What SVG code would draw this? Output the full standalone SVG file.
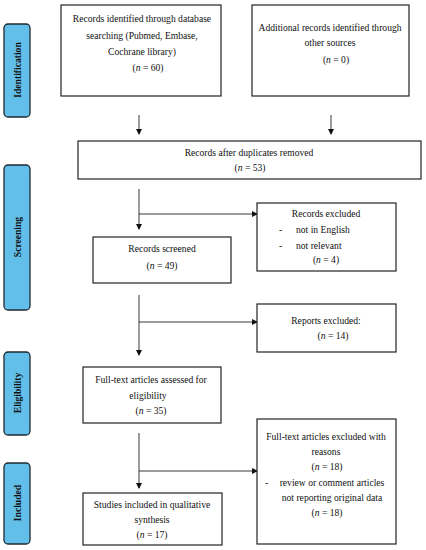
<svg xmlns="http://www.w3.org/2000/svg" width="426" height="550" viewBox="0 0 426 550">
<defs>
<style>
.box{fill:#fff;stroke:#222;stroke-width:1.2}
.lab{fill:#62BFEA;stroke:#1f2a30;stroke-width:1.3}
.t{font-family:'Liberation Serif','Times New Roman',serif;font-size:9.6px;fill:#111;text-anchor:middle}
.tl{font-family:'Liberation Serif','Times New Roman',serif;font-size:9.6px;fill:#111}
.lt{font-family:'Liberation Serif','Times New Roman',serif;font-size:9.6px;font-weight:bold;fill:#111;text-anchor:middle}
.c{fill:none;stroke:#222;stroke-width:0.9}
</style>
<marker id="ah" markerWidth="6" markerHeight="6" refX="5" refY="3" orient="auto" markerUnits="userSpaceOnUse">
<path d="M0,0 L6,3 L0,6 Z" fill="#111"/>
</marker>
</defs>
<rect width="426" height="550" fill="#fff"/>

<g id="label-identification"><rect class="lab" x="4" y="24" width="26" height="93" rx="4"/><text class="lt" transform="translate(20.5,70) rotate(-90)">Identification</text></g>
<g id="label-screening"><rect class="lab" x="4" y="165" width="26" height="145" rx="4"/><text class="lt" transform="translate(20.5,237) rotate(-90)">Screening</text></g>
<g id="label-eligibility"><rect class="lab" x="4" y="352" width="26" height="83" rx="4"/><text class="lt" transform="translate(20.5,393) rotate(-90)">Eligibility</text></g>
<g id="label-included"><rect class="lab" x="4" y="463" width="26" height="81" rx="4"/><text class="lt" transform="translate(20.5,503) rotate(-90)">Included</text></g>

<g id="connectors">
<line class="c" x1="139" y1="115" x2="139" y2="134" marker-end="url(#ah)"/>
<line class="c" x1="331" y1="115" x2="331" y2="134" marker-end="url(#ah)"/>
<line class="c" x1="139" y1="189" x2="139" y2="229" marker-end="url(#ah)"/>
<line class="c" x1="139" y1="214" x2="257" y2="214" marker-end="url(#ah)"/>
<line class="c" x1="139" y1="295" x2="139" y2="355" marker-end="url(#ah)"/>
<line class="c" x1="139" y1="322" x2="257" y2="322" marker-end="url(#ah)"/>
<line class="c" x1="139" y1="433" x2="139" y2="488" marker-end="url(#ah)"/>
<line class="c" x1="139" y1="471" x2="257" y2="471" marker-end="url(#ah)"/>
</g>

<g id="records-identified"><rect class="box" x="61" y="5" width="160" height="91"/>
<text class="t" x="142" y="22">Records identified through database</text>
<text class="t" x="142" y="39">searching (Pubmed, Embase,</text>
<text class="t" x="142" y="55">Cochrane library)</text>
<text class="t" x="148" y="71">(<tspan font-style="italic">n</tspan> = 60)</text></g>

<g id="additional-records"><rect class="box" x="252" y="5" width="157" height="91"/>
<text class="t" x="330" y="31">Additional records identified through</text>
<text class="t" x="330" y="46">other sources</text>
<text class="t" x="336" y="63">(<tspan font-style="italic">n</tspan> = 0)</text></g>

<g id="after-duplicates"><rect class="box" x="78" y="141" width="343" height="38"/>
<text class="t" x="249" y="156">Records after duplicates removed</text>
<text class="t" x="250" y="171">(<tspan font-style="italic">n</tspan> = 53)</text></g>

<g id="records-excluded"><rect class="box" x="257" y="203" width="139" height="68"/>
<text class="t" x="326" y="217">Records excluded</text>
<text class="tl" x="279" y="233">-</text><text class="tl" x="296" y="233">not in English</text>
<text class="tl" x="279" y="249">-</text><text class="tl" x="296" y="249">not relevant</text>
<text class="t" x="326" y="263">(<tspan font-style="italic">n</tspan> = 4)</text></g>

<g id="records-screened"><rect class="box" x="93" y="237" width="138" height="46"/>
<text class="t" x="162" y="252">Records screened</text>
<text class="t" x="162" y="269">(<tspan font-style="italic">n</tspan> = 49)</text></g>

<g id="reports-excluded"><rect class="box" x="257" y="304" width="139" height="48"/>
<text class="t" x="326" y="324">Reports excluded:</text>
<text class="t" x="333" y="339">(<tspan font-style="italic">n</tspan> = 14)</text></g>

<g id="fulltext-assessed"><rect class="box" x="83" y="367" width="138" height="56"/>
<text class="t" x="151" y="383">Full-text articles assessed for</text>
<text class="t" x="148" y="399">eligibility</text>
<text class="t" x="151" y="414">(<tspan font-style="italic">n</tspan> = 35)</text></g>

<g id="fulltext-excluded"><rect class="box" x="257" y="419" width="139" height="125"/>
<text class="t" x="326" y="440">Full-text articles excluded with</text>
<text class="t" x="326" y="455">reasons</text>
<text class="t" x="327" y="470">(<tspan font-style="italic">n</tspan> = 18)</text>
<text class="tl" x="265" y="486">-</text>
<text class="t" x="332" y="486">review or comment articles</text>
<text class="t" x="332" y="501">not reporting original data</text>
<text class="t" x="327" y="516">(<tspan font-style="italic">n</tspan> = 18)</text></g>

<g id="studies-included"><rect class="box" x="83" y="493" width="139" height="52"/>
<text class="t" x="152" y="508">Studies included in qualitative</text>
<text class="t" x="152" y="523">synthesis</text>
<text class="t" x="152" y="538">(<tspan font-style="italic">n</tspan> = 17)</text></g>
</svg>
